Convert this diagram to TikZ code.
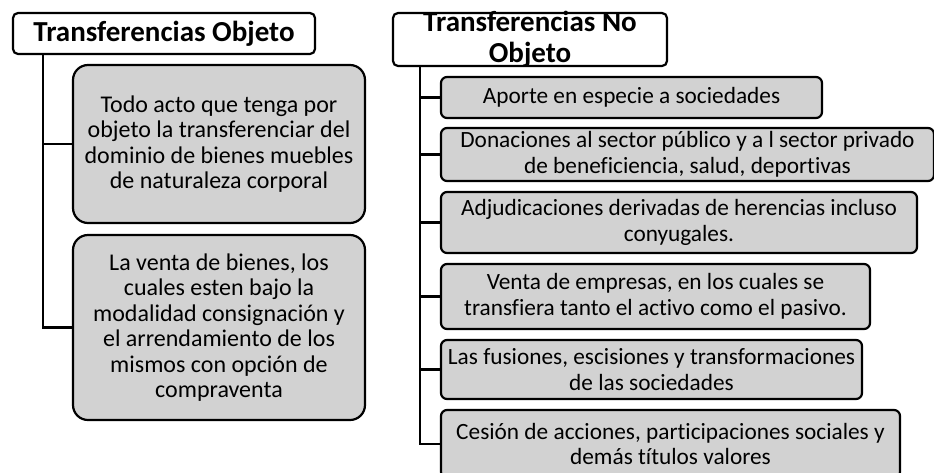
\documentclass[tikz,border=0pt]{standalone}
\usepackage{fontspec}
\setmainfont{Carlito}[Ligatures=CommonOff]
\usetikzlibrary{positioning}
\definecolor{grisCaja}{RGB}{210,210,210}

\begin{document}
\begin{tikzpicture}[x=1pt, y=-1pt, line width=2.2pt, outer sep=0pt,
		font=\fontsize{24}{25.5}\selectfont,
		titulo/.style={draw, rounded corners=5pt, fill=white, align=center, inner sep=0pt,
			font=\fontsize{29}{31}\selectfont\bfseries},
		bloque/.style={draw, rounded corners=15pt, fill=grisCaja, align=center, inner sep=0pt,
			anchor=north west, minimum width=292pt},
		item/.style={draw, rounded corners=6pt, fill=grisCaja, align=center, inner sep=0pt,
			font=\fontsize{23.3}{25.5}\selectfont}]

	\useasboundingbox (0,0) rectangle (934,472);

	% lado izquierdo
	\node [titulo, minimum width=302pt, minimum height=41pt]	(objHdr)	at (164,33.5)	{Transferencias Objeto};
	\node [bloque, minimum height=158pt]	(objA)	at (73,65)	{Todo acto que tenga por\\objeto la transferenciar del\\dominio de bienes muebles\\de naturaleza corporal};
	\node [bloque, minimum height=185pt]	(objB)	at (73,235)	{La venta de bienes, los\\cuales esten bajo la\\modalidad consignación y\\el arrendamiento de los\\mismos con opción de\\compraventa};

	\coordinate (ejeObj) at ([xshift=30pt]objHdr.south west);
	\draw (ejeObj) |- (objA.west);
	\draw (ejeObj) |- (objB.west);

	% lado derecho
	\node [titulo, minimum width=274pt, minimum height=53pt, inner ysep=-2pt]	(noHdr)	at (530,39.5)	{Transferencias No\\Objeto};
	\node [item, anchor=north west, minimum width=381pt, minimum height=41pt]	(no1)	at (441,77)	{Aporte en especie a sociedades};
	\node [item, minimum width=493pt, minimum height=53pt]	(no2)	[below right=10pt and 0pt of no1.south west]	{Donaciones al sector público y a l sector privado\\de beneficiencia, salud, deportivas};
	\node [item, minimum width=476pt, minimum height=61pt]	(no3)	[below right=11pt and 0pt of no2.south west]	{Adjudicaciones derivadas de herencias incluso\\conyugales.};
	\node [item, minimum width=429pt, minimum height=65pt]	(no4)	[below right=11pt and 0pt of no3.south west]	{Venta de empresas, en los cuales se\\transfiera tanto el activo como el pasivo.};
	\node [item, minimum width=421pt, minimum height=59pt]	(no5)	[below right=11pt and 0pt of no4.south west]	{Las fusiones, escisiones y transformaciones\\de las sociedades};
	\node [item, minimum width=459pt, minimum height=68pt]	(no6)	[below right=11pt and 0pt of no5.south west]	{Cesión de acciones, participaciones sociales y\\demás títulos valores};

	\coordinate (ejeNo) at ([xshift=27pt]noHdr.south west);
	\foreach \n in {no1,no2,no3,no4,no5,no6}
		\draw (ejeNo) |- (\n.west);

\end{tikzpicture}
\end{document}
